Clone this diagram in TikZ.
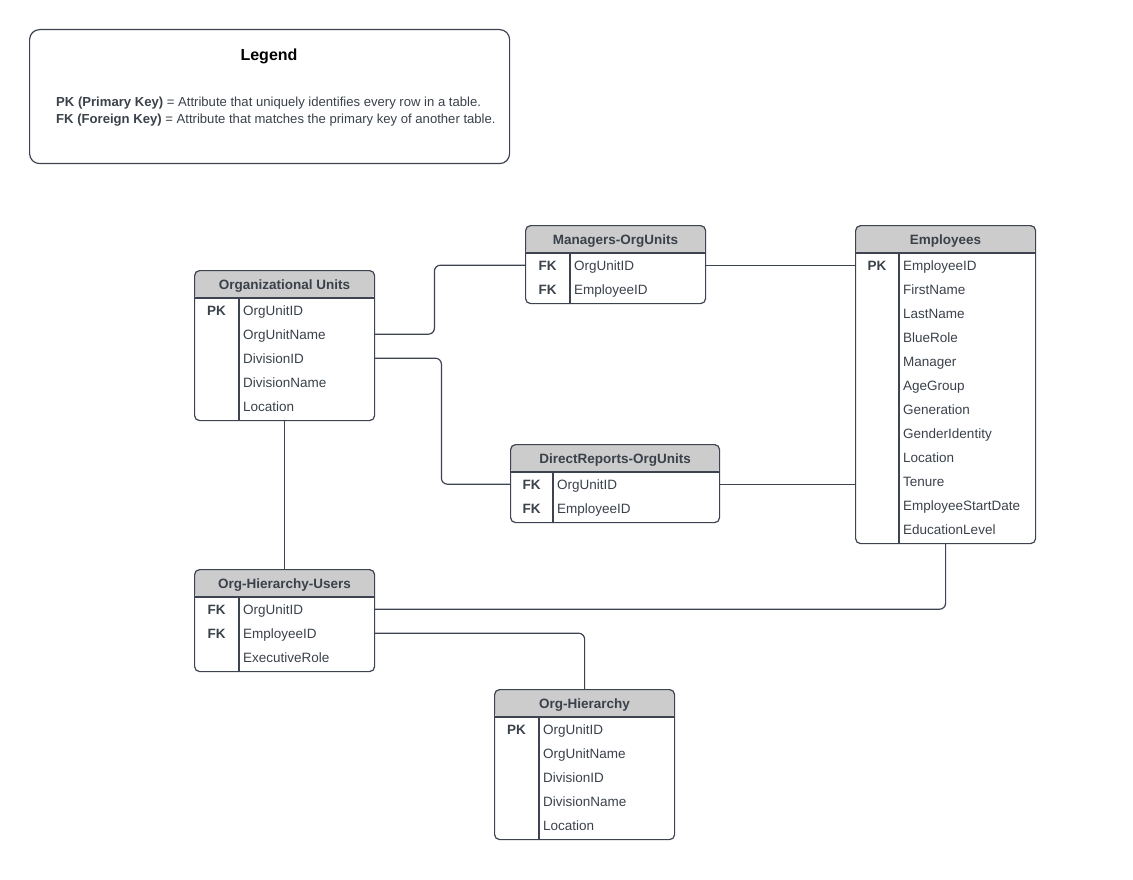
\documentclass[tikz,border=0pt]{standalone}
\usepackage{fontspec}
\setmainfont{Liberation Sans}
\usetikzlibrary{positioning}

\definecolor{inkgray}{HTML}{3A414A}
\definecolor{linegray}{HTML}{3D4350}
\definecolor{headgray}{HTML}{CCCCCC}

% #1 name, #2 x, #3 y, #4 width, #5 key column width, #6 rows, #7 title, #8 key/attribute list
\newcommand{\entitytable}[8]{%
  \node[tblframe, minimum width=#4, minimum height={28+24*#6+2}, anchor=north west] (#1) at (#2,#3) {};
  \draw[tblline] ([yshift=-28pt]#1.north west) -- ([yshift=-28pt]#1.north east);
  \draw[tblline] ([xshift=#5pt, yshift=-28pt]#1.north west) -- ([xshift=#5pt]#1.south west);
  \node[tbltitle, anchor=base] (#1-title) at ([yshift=-19pt]#1.north) {#7};
  \foreach \k/\a [count=\i] in {#8} {
    \node[tblrow, minimum width=#4, anchor=north west] (#1-\i) at ([yshift={-28pt-24pt*(\i-1)}]#1.north west) {};
    \node[keytext, anchor=base] at ([xshift=#5pt/2, yshift=-5pt]#1-\i.west) {\k};
    \node[attrtext, anchor=base west] at ([xshift=#5pt+4pt, yshift=-5pt]#1-\i.west) {\a};
  }
}

\begin{document}
\begin{tikzpicture}[
        x=1pt, y=-1pt,
        tblframe/.style={draw=linegray, line width=1.2pt, rounded corners=5pt, inner sep=0pt,
            path picture={\fill[headgray] (path picture bounding box.north west) rectangle ([yshift=-28pt]path picture bounding box.north east);}},
        tblline/.style={draw=linegray, line width=1.2pt},
        tblrow/.style={inner sep=0pt, minimum height=24pt},
        tbltitle/.style={inner sep=0pt, text=inkgray, font=\fontsize{13.5}{16}\selectfont\bfseries},
        keytext/.style={inner sep=0pt, text=inkgray, font=\fontsize{13.5}{16}\selectfont\bfseries},
        attrtext/.style={inner sep=0pt, text=inkgray, font=\fontsize{13.5}{16}\selectfont},
        legendbox/.style={draw=linegray, line width=1.2pt, rounded corners=10pt, inner sep=0pt},
        legendtext/.style={inner sep=0pt, text=inkgray, font=\fontsize{13.1}{15}\selectfont},
        rel/.style={draw=linegray, line width=1.2pt, rounded corners=6pt},
        ]
    \useasboundingbox (0,0) rectangle (1133,880);

    % Legend
    \node[legendbox, minimum width=480, minimum height=134, anchor=north west] (legend) at (29,29) {};
    \node[inner sep=0pt, font=\fontsize{16}{19}\selectfont\bfseries, anchor=base] (legend-title) at (269,61) {Legend};
    \node[legendtext, anchor=base west] (legend-pk) at (56,107) {\textbf{PK (Primary Key)} = Attribute that uniquely identifies every row in a table.};
    \node[legendtext, anchor=base west] (legend-fk) at (56,124) {\textbf{FK (Foreign Key)} = Attribute that matches the primary key of another table.};

    % Tables
    \entitytable{ou}{194}{270}{180}{45}{5}{Organizational Units}{PK/OrgUnitID, /OrgUnitName, /DivisionID, /DivisionName, /Location}
    \entitytable{mo}{525}{225}{180}{45}{2}{Managers-OrgUnits}{FK/OrgUnitID, FK/EmployeeID}
    \entitytable{emp}{855}{225}{180}{44}{12}{Employees}{PK/EmployeeID, /FirstName, /LastName, /BlueRole, /Manager, /AgeGroup, /Generation, /GenderIdentity, /Location, /Tenure, /EmployeeStartDate, /EducationLevel}
    \entitytable{dr}{510}{444}{209}{43}{2}{DirectReports-OrgUnits}{FK/OrgUnitID, FK/EmployeeID}
    \entitytable{ohu}{194}{569}{180}{45}{3}{Org-Hierarchy-Users}{FK/OrgUnitID, FK/EmployeeID, /ExecutiveRole}
    \entitytable{oh}{494}{689}{180}{45}{5}{Org-Hierarchy}{PK/OrgUnitID, /OrgUnitName, /DivisionID, /DivisionName, /Location}

    % Relations
    \draw[rel] (ou-2.east) -- ++(60,0) |- (mo-1.west);
    \draw[rel] (mo-1.east) -- (emp-1.west);
    \draw[rel] (ou-3.east) -- ++(67,0) |- (dr-1.west);
    \draw[rel] (dr-1.east) -- (dr-1.east -| emp-10.west);
    \draw[rel] (ou.south) -- (ohu.north);
    \draw[rel] (ohu-1.east) -| (emp.south);
    \draw[rel] (ohu-2.east) -| (oh.north);

\end{tikzpicture}
\end{document}
